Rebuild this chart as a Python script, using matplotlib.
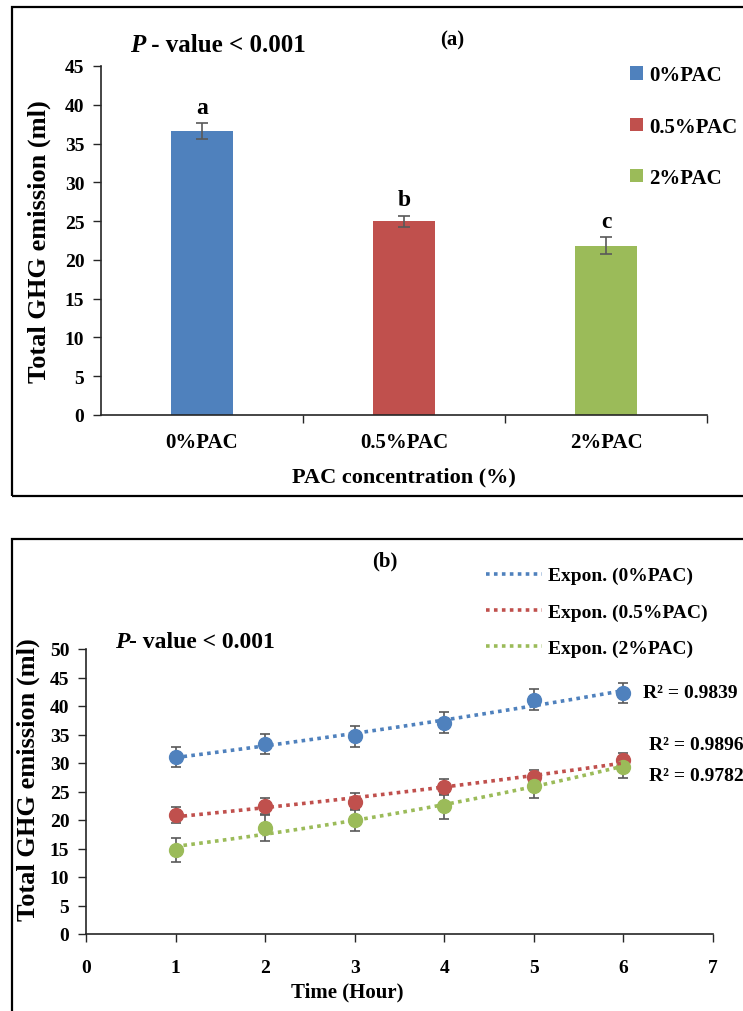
import numpy as np
import matplotlib
matplotlib.use('Agg')
import matplotlib.pyplot as plt
from matplotlib.patches import Rectangle

plt.rcParams['font.family'] = ['Liberation Serif', 'DejaVu Serif']
plt.rcParams['font.weight'] = 'bold'

# panel (a) data
groups = ['0%PAC', '0.5%PAC', '2%PAC']
totals = [36.6, 25.0, 21.8]
totals_err = [1.0, 0.7, 1.1]
letters = ['a', 'b', 'c']
colors = ['#4F81BD', '#C0504D', '#9BBB59']

# panel (b) data
hours = [1, 2, 3, 4, 5, 6]
ghg_0 = [31.0, 33.3, 34.7, 37.1, 41.1, 42.3]
ghg_05 = [20.8, 22.4, 23.2, 25.8, 27.6, 30.5]
ghg_2 = [14.7, 18.6, 20.0, 22.4, 25.9, 29.3]
err_0 = [1.75, 1.8, 1.85, 1.8, 1.8, 1.8]
err_05 = [1.4, 1.4, 1.5, 1.4, 1.2, 1.2]
err_2 = [2.15, 2.2, 2.0, 2.2, 2.1, 2.0]
r2_labels = ['R² = 0.9839', 'R² = 0.9896', 'R² = 0.9782']

W, H = 743, 1012
fig = plt.figure(figsize=(W/100, H/100), dpi=100)

def fx(px):
    return px / W

def fy(py):
    return 1 - py / H

# outer frames of the two panels
for top, bot in [(8, 497), (540, 1030)]:
    fig.patches.append(Rectangle((fx(12), fy(bot)), 1.2, fy(top) - fy(bot),
                                 transform=fig.transFigure, fill=False,
                                 lw=1.6, ec='black', clip_on=False))

def style_axes(ax):
    for s in ['top', 'right']:
        ax.spines[s].set_visible(False)
    for s in ['left', 'bottom']:
        ax.spines[s].set_linewidth(1.2)
        ax.spines[s].set_color('#262626')
    ax.tick_params(direction='out', width=1.0, color='#262626', labelsize=14)

# ---------- panel (a)
ax1 = fig.add_axes([fx(101), fy(416), fx(707) - fx(101), fy(67) - fy(416)])
x = np.arange(len(groups))
bars = ax1.bar(x, totals, width=0.31, color=colors, zorder=2)
ax1.errorbar(x, totals, yerr=totals_err, fmt='none', ecolor='#595959',
             elinewidth=1.2, capsize=4.5, capthick=1.2, zorder=3)
for xi, v, e, l in zip(x, totals, totals_err, letters):
    ax1.text(xi, v + e + 0.7, l, ha='center', va='bottom', fontsize=17, weight='bold')
ax1.set_xlim(-0.5, 2.5)
ax1.set_ylim(0, 45)
ax1.set_yticks(np.arange(0, 46, 5))
ax1.set_xticks([0.5, 1.5, 2.5])
ax1.set_xticklabels([])
ax1.set_xticks(x, minor=True)
ax1.set_xticklabels(groups, minor=True)
style_axes(ax1)
ax1.tick_params(axis='x', which='major', length=6)
ax1.tick_params(axis='x', which='minor', length=0, pad=12, labelsize=15)
ax1.tick_params(axis='y', length=6, pad=6)
for lab in ax1.get_yticklabels() + ax1.get_xticklabels(minor=True):
    lab.set_fontweight('bold')
fig.text(fx(39), fy(242), 'Total GHG emission (ml)', rotation=90, ha='center',
         va='center', fontsize=19, weight='bold')
fig.text(fx(404), fy(477), 'PAC concentration (%)', ha='center', va='center',
         fontsize=16, weight='bold')
fig.text(fx(452), fy(40), '(a)', ha='center', va='center', fontsize=15, weight='bold')
ax1.legend(bars, groups, loc='upper left', bbox_to_anchor=(fx(620), fy(56)),
           bbox_transform=fig.transFigure, frameon=False, handlelength=0.6,
           handleheight=0.6, handletextpad=0.3, labelspacing=1.5,
           prop={'size': 15, 'weight': 'bold'}, borderpad=0)

# ---------- panel (b)
ax2 = fig.add_axes([fx(86), fy(935), fx(713) - fx(86), fy(650) - fy(935)])
series = [(ghg_0, err_0, colors[0], 'Expon. (0%PAC)'),
          (ghg_05, err_05, colors[1], 'Expon. (0.5%PAC)'),
          (ghg_2, err_2, colors[2], 'Expon. (2%PAC)')]
trend_lines = []
xs = np.array(hours, dtype=float)
for vals, errs, c, lab in series:
    vals = np.array(vals)
    b, lna = np.polyfit(xs, np.log(vals), 1)
    xf = np.linspace(1, 6, 100)
    ln, = ax2.plot(xf, np.exp(lna) * np.exp(b * xf), ls=(0, (1, 1.2)), lw=2.6,
                   color=c, zorder=4, label=lab)
    trend_lines.append(ln)
    ax2.errorbar(xs, vals, yerr=errs, fmt='none', ecolor='#595959',
                 elinewidth=1.2, capsize=3.5, capthick=1.2, zorder=2)
    ax2.plot(xs, vals, 'o', ms=10, color=c, zorder=3)
ax2.set_xlim(0, 7)
ax2.set_ylim(0, 50)
ax2.set_xticks(range(0, 8))
ax2.set_yticks(np.arange(0, 51, 5))
style_axes(ax2)
ax2.tick_params(axis='x', length=6, pad=12)
ax2.tick_params(axis='y', length=6, pad=6)
for lab in ax2.get_yticklabels() + ax2.get_xticklabels():
    lab.set_fontweight('bold')
fig.text(fx(28), fy(780), 'Total GHG emission (ml)', rotation=90, ha='center',
         va='center', fontsize=19, weight='bold')
fig.text(fx(347), fy(992), 'Time (Hour)', ha='center', va='center',
         fontsize=15, weight='bold')
fig.text(fx(385), fy(561), '(b)', ha='center', va='center', fontsize=15, weight='bold')
ax2.legend(handles=trend_lines, loc='upper left', bbox_to_anchor=(fx(476), fy(558)),
           bbox_transform=fig.transFigure, frameon=False, handlelength=2.9,
           handletextpad=0.3, labelspacing=0.95, borderpad=0,
           prop={'size': 14, 'weight': 'bold'})
for (px, py), r2 in zip([(643, 693), (649, 746), (649, 777)], r2_labels):
    fig.text(fx(px), fy(py), r2, ha='left', va='center', fontsize=14, weight='bold')

# p-values with italic P
for px, py, txt, sz in [(130, 45, ' - value < 0.001', 18), (115, 643, '- value < 0.001', 17)]:
    t = fig.text(fx(px), fy(py), 'P', fontsize=sz, style='italic', weight='bold', va='center')
    ax1.annotate(txt, xy=(1, 0.5), xycoords=t, fontsize=sz, weight='bold',
                 va='center', ha='left', annotation_clip=False)

fig.savefig('out.png', dpi=100)
